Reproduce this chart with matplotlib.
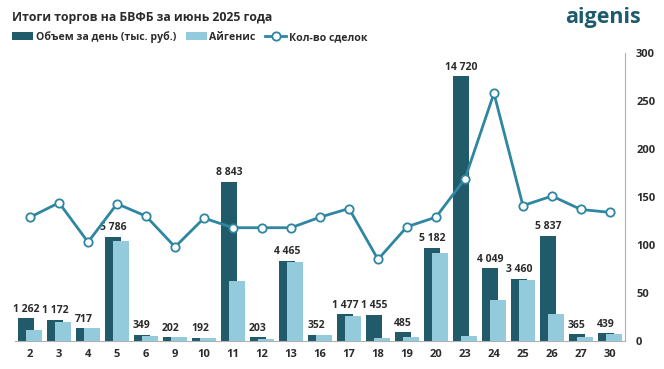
import matplotlib
matplotlib.use("Agg")
import matplotlib.pyplot as plt
import numpy as np

plt.rcParams['font.family'] = ['Open Sans', 'DejaVu Sans']

# Data
days = ['2', '3', '4', '5', '6', '9', '10', '11', '12', '13', '16',
        '17', '18', '19', '20', '23', '24', '25', '26', '27', '30']
volume = [1262, 1172, 717, 5786, 349, 202, 192, 8843, 203, 4465, 352,
          1477, 1455, 485, 5182, 14720, 4049, 3460, 5837, 365, 439]
aigenis = [620, 1060, 717, 5560, 280, 202, 192, 3340, 120, 4400, 352,
           1400, 170, 220, 4900, 280, 2280, 3400, 1500, 220, 380]
deals = [129, 144, 103, 143, 130, 98, 128, 118, 118, 118, 129,
         138, 85, 119, 129, 169, 258, 141, 151, 137, 134]

dark = '#215a69'
light = '#93cbdc'
line_c = '#2e86a0'
text_c = '#2b2b2b'

fig = plt.figure(figsize=(6.64, 3.69), dpi=100)
ax = fig.add_axes([15 / 664, 28 / 369, 610 / 664, 288 / 369])
ax2 = ax.twinx()

x = np.arange(len(days))
w = 0.55
ax.bar(x - 0.14, volume, w, color=dark, zorder=2, label='Объем за день (тыс. руб.)')
ax.bar(x + 0.14, aigenis, w, color=light, zorder=3, label='Айгенис')

# value labels above the dark bars
for xi, v in zip(x, volume):
    ax.annotate(f"{v:,}".replace(',', ' '), (xi - 0.14, v), xytext=(0, 2.5),
                textcoords='offset points', ha='center', va='bottom',
                fontsize=7.5, fontweight='bold', color=text_c)

ax2.plot(x, deals, color=line_c, lw=2, marker='o', markersize=6,
         markerfacecolor='white', markeredgecolor=line_c, markeredgewidth=1.3,
         zorder=5, label='Кол-во сделок')

ax.set_xlim(-0.52, 20.52)
ax.set_ylim(0, 16000)
ax2.set_ylim(0, 300)
ax2.set_yticks(range(0, 301, 50))

ax.set_xticks(x)
ax.set_xticklabels(days)
ax.set_yticks([])
for a in (ax, ax2):
    for s in ('top', 'left'):
        a.spines[s].set_visible(False)
    a.spines['bottom'].set_color('#b0b0b0')
    a.spines['right'].set_color('#b0b0b0')
ax.spines['right'].set_visible(False)
ax2.spines['bottom'].set_visible(False)
ax.tick_params(axis='x', length=0, pad=6, labelsize=8, labelcolor=text_c)
for t in ax.get_xticklabels():
    t.set_fontweight('bold')
ax2.tick_params(axis='y', length=0, pad=8, labelsize=8, labelcolor=text_c)
for t in ax2.get_yticklabels():
    t.set_fontweight('bold')

fig.text(12 / 664, 1 - 17 / 369, 'Итоги торгов на БВФБ за июнь 2025 года',
         fontsize=8.8, fontweight='bold', color=text_c, va='center', ha='left')
fig.text(641 / 664, 1 - 18 / 369, 'aigenis', fontsize=15.5, fontweight='bold',
         color='#1d5a6b', va='center', ha='right')

h1, l1 = ax.get_legend_handles_labels()
h2, l2 = ax2.get_legend_handles_labels()
fig.legend(h1 + h2, l1 + l2, loc='center left', bbox_to_anchor=(12 / 664, 1 - 37 / 369),
           ncol=3, frameon=False, handlelength=2.0, handleheight=0.8,
           handletextpad=0.25, columnspacing=0.9, borderaxespad=0, borderpad=0,
           prop={'weight': 'bold', 'size': 7.6})
for t in fig.legends[0].get_texts():
    t.set_color(text_c)

fig.savefig('out.png', dpi=100)
